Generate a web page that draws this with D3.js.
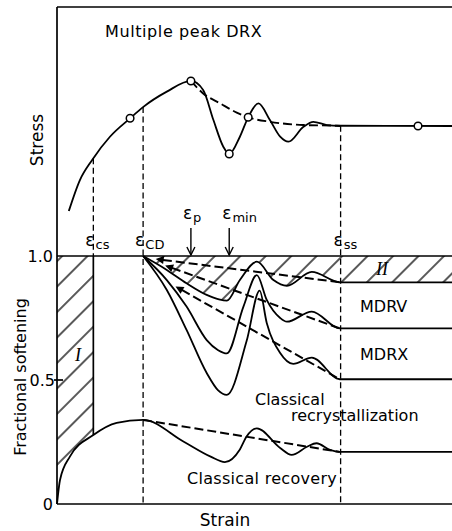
<!DOCTYPE html>
<html><head><meta charset="utf-8">
<script src="https://cdn.jsdelivr.net/npm/d3@7"></script>
<style>
body{margin:0;background:#fff}
svg{display:block}
text{font-family:"DejaVu Sans",sans-serif;fill:#000}
</style>
</head><body><svg id="c" width="452" height="531"></svg>
<script>
// ---------- data ----------
const markNames   = ["cs","CD","p","min","ss"];
const markStrain  = [9.2, 21.8, 33.9, 43.6, 71.8];

// stress–strain (top panel)
const stressStrain = [3.0,5.8,8.9,13.4,18.5,21.7,27.8,33.9,37.0,39.6,42.1,43.6,46.3,48.4,51.0,53.9,56.5,58.6,62.4,64.9,68.3,71.6,100];
const stressSolid  = [18.1,30.5,38.6,47.9,55.3,59.7,66.0,70.3,66.7,54.6,43.9,41.0,47.9,55.7,61.3,54.6,47.9,45.9,51.9,53.9,52.6,52.3,52.2];
const stressDashStrain = [33.9,37.0,41.3,45.5,48.4,53.9,62.4,70.8,71.8];
const stressDash       = [70.3,65.3,61.3,57.6,55.7,53.9,52.6,52.3,52.2];
const circStrain = [18.5,33.9,43.6,48.4,91.4];
const circStress = [55.3,70.3,41.0,55.7,52.2];

// fractional softening (bottom panel)
const fsStrainA = [21.8,27.8,32.8,37.9,41.0,43.0,46.3,50.6,54.8,58.2,64.5,71.6,100];
const fsA       = [1.0,0.944,0.890,0.843,0.825,0.820,0.903,0.977,0.903,0.880,0.936,0.894,0.894];
const fsStrainB = [21.8,27.8,32.8,37.9,40.8,43.0,47.2,50.6,53.1,56.5,58.2,64.5,71.6,100];
const fsB       = [1.0,0.903,0.796,0.661,0.620,0.607,0.796,0.923,0.823,0.750,0.735,0.776,0.708,0.708];
const fsStrainC = [21.8,27.8,32.8,37.9,40.8,43.0,48.0,51.3,53.1,56.5,59.8,64.5,71.6,100];
const fsC       = [1.0,0.863,0.702,0.528,0.458,0.440,0.657,0.860,0.730,0.609,0.565,0.590,0.503,0.503];
const recStrain = [0,0.76,3.3,9.2,15.1,21.8,32.1,38.9,42.5,46.3,48.0,50.6,56.5,59.4,63.3,65.7,69.1,71.6,100];
const recFs     = [0,0.097,0.192,0.278,0.327,0.339,0.251,0.191,0.169,0.220,0.272,0.305,0.226,0.198,0.231,0.245,0.218,0.210,0.210];

const dashStartStrain = [26.8,29.1,31.6,21.8];
const dashStartFs     = [0.984,0.952,0.863,0.339];
const dashEndStrain   = [71.6,71.6,71.6,71.6];
const dashEndFs       = [0.894,0.708,0.503,0.210];
const dashArrow       = [true,true,true,false];

const fsTicks = [0,0.5,1.0];
const fsTickLabels = ["0","0.5","1.0"];

// ---------- scales ----------
const svg = d3.select("#c");
const x  = d3.scaleLinear().domain([0,100]).range([57,452]);
const yS = d3.scaleLinear().domain([0,100]).range([256,7]);
const yF = d3.scaleLinear().domain([0,1]).range([504,256]);

const zip = (a,b)=>a.map((v,i)=>({s:v,v:b[i]}));
const lineS = d3.line().x(d=>x(d.s)).y(d=>yS(d.v)).curve(d3.curveMonotoneX);
const lineF = d3.line().x(d=>x(d.s)).y(d=>yF(d.v)).curve(d3.curveMonotoneX);
const interp = (xs,ys,s)=>{for(let i=1;i<xs.length;i++){if(s<=xs[i]){const t=(s-xs[i-1])/(xs[i]-xs[i-1]);return ys[i-1]+t*(ys[i]-ys[i-1]);}}return ys[ys.length-1];};

// ---------- defs ----------
const defs = svg.append("defs");
const pat = defs.append("pattern").attr("id","hatch").attr("patternUnits","userSpaceOnUse")
  .attr("width",18).attr("height",18).attr("patternTransform","rotate(45)");
pat.append("line").attr("x1",9).attr("y1",-2).attr("x2",9).attr("y2",20).attr("stroke","#000").attr("stroke-width",1.3);
defs.append("marker").attr("id","arr").attr("viewBox","0 0 10 10").attr("refX",1).attr("refY",5)
  .attr("markerWidth",5).attr("markerHeight",4).attr("orient","auto-start-reverse").attr("markerUnits","strokeWidth")
  .append("path").attr("d","M0,0 L10,5 L0,10 z").attr("fill","#000");
defs.append("clipPath").attr("id","clipI").append("rect")
  .attr("x",x(0)).attr("y",yF(1)).attr("width",x(markStrain[0])-x(0)).attr("height",yF(0)-yF(1));
defs.append("clipPath").attr("id","clipII").append("rect")
  .attr("x",x(markStrain[1])).attr("y",yF(1)).attr("width",x(100)-x(markStrain[1])).attr("height",yF(0)-yF(1));

// ---------- hatched regions ----------
const areaF = d3.area().x(d=>x(d.s)).y0(yF(1)).y1(d=>yF(d.v)).curve(d3.curveMonotoneX);
svg.append("path").attr("d",areaF(zip(recStrain,recFs))).attr("fill","url(#hatch)").attr("clip-path","url(#clipI)");
svg.append("path").attr("d",areaF(zip(fsStrainA,fsA))).attr("fill","url(#hatch)").attr("clip-path","url(#clipII)");

// ---------- frame ----------
const frame = svg.append("g").attr("stroke","#000").attr("stroke-width",1.7).attr("fill","none");
frame.append("line").attr("x1",x(0)).attr("x2",x(0)).attr("y1",yS(100)).attr("y2",yF(0));
frame.append("line").attr("x1",x(0)).attr("x2",x(100)).attr("y1",yS(100)).attr("y2",yS(100));
frame.append("line").attr("x1",x(0)).attr("x2",x(100)).attr("y1",yF(1)).attr("y2",yF(1));
frame.append("line").attr("x1",x(0)).attr("x2",x(100)).attr("y1",yF(0)).attr("y2",yF(0));
frame.append("line").attr("x1",x(0)-3).attr("x2",x(0)+6).attr("y1",yF(0.5)).attr("y2",yF(0.5));

// tick labels
svg.selectAll(".tk").data(fsTicks).enter().append("text")
  .attr("x",(d,i)=>i===1?x(0)-2:x(0)-4).attr("y",d=>yF(d)).attr("dy","0.36em")
  .attr("text-anchor","end").attr("font-size",16).text((d,i)=>fsTickLabels[i]);

// ---------- vertical marker lines ----------
const vd = svg.append("g").attr("stroke","#000").attr("stroke-width",1.3).attr("stroke-dasharray","6,3.5").attr("fill","none");
vd.append("line").attr("x1",x(markStrain[0])).attr("x2",x(markStrain[0]))
  .attr("y1",yS(interp(stressStrain,stressSolid,markStrain[0]))).attr("y2",yF(1));
svg.append("line").attr("stroke","#000").attr("stroke-width",1.7)
  .attr("x1",x(markStrain[0])).attr("x2",x(markStrain[0]))
  .attr("y1",yF(1)).attr("y2",yF(interp(recStrain,recFs,markStrain[0])));
vd.append("line").attr("x1",x(markStrain[1])).attr("x2",x(markStrain[1]))
  .attr("y1",yS(interp(stressStrain,stressSolid,markStrain[1]))).attr("y2",yF(0));
vd.append("line").attr("x1",x(markStrain[4])).attr("x2",x(markStrain[4]))
  .attr("y1",yS(interp(stressStrain,stressSolid,markStrain[4]))).attr("y2",yF(0));

// eps_p / eps_min arrows
[2,3].forEach(i=>{
  const xx = x(markStrain[i]);
  const g = svg.append("g").attr("stroke","#000").attr("stroke-width",1.4).attr("fill","none");
  g.append("line").attr("x1",xx).attr("x2",xx).attr("y1",228).attr("y2",yF(1)-1);
  g.append("path").attr("d",`M${xx-4},${yF(1)-9} L${xx},${yF(1)-1} L${xx+4},${yF(1)-9}`);
});

// ---------- curves ----------
const cs = svg.append("g").attr("fill","none").attr("stroke","#000").attr("stroke-width",1.8);
cs.append("path").attr("d",lineS(zip(stressStrain,stressSolid)));
cs.append("path").attr("d",lineS(zip(stressDashStrain,stressDash))).attr("stroke-dasharray","9,4").attr("stroke-width",1.9);
cs.append("path").attr("d",lineF(zip(fsStrainA,fsA)));
cs.append("path").attr("d",lineF(zip(fsStrainB,fsB)));
cs.append("path").attr("d",lineF(zip(fsStrainC,fsC)));
cs.append("path").attr("d",lineF(zip(recStrain,recFs)));

dashStartStrain.forEach((s,i)=>{
  const p = cs.append("line").attr("x1",x(s)).attr("y1",yF(dashStartFs[i]))
    .attr("x2",x(dashEndStrain[i])).attr("y2",yF(dashEndFs[i]))
    .attr("stroke-dasharray","9,4").attr("stroke-width",2);
  if(dashArrow[i]) p.attr("marker-start","url(#arr)");
});

svg.selectAll(".circ").data(circStrain).enter().append("circle")
  .attr("cx",d=>x(d)).attr("cy",(d,i)=>yS(circStress[i])).attr("r",3.8)
  .attr("fill","#fff").attr("stroke","#000").attr("stroke-width",1.5);

// ---------- labels ----------
function eps(xx,yy,sub){
  const t = svg.append("text").attr("x",xx).attr("y",yy).attr("font-size",17);
  t.append("tspan").text("ε");
  t.append("tspan").attr("font-size",13).attr("dy",3).attr("dx",1).text(sub);
}
eps(x(markStrain[0])-8, 246, markNames[0]);
eps(x(markStrain[1])-8, 246, markNames[1]);
eps(x(markStrain[2])-8, 219, markNames[2]);
eps(x(markStrain[3])-7, 219, markNames[3]);
eps(x(markStrain[4])-7, 246, markNames[4]);

svg.append("text").attr("x",105).attr("y",37).attr("font-size",16).attr("letter-spacing",0.6).text("Multiple peak DRX");
svg.append("text").attr("transform","translate(43,140) rotate(-90)").attr("text-anchor","middle").attr("font-size",17).text("Stress");
svg.append("text").attr("transform","translate(26,377) rotate(-90)").attr("text-anchor","middle").attr("font-size",16).text("Fractional softening");
svg.append("text").attr("x",225).attr("y",526).attr("text-anchor","middle").attr("font-size",17).text("Strain");

svg.append("text").attr("x",360).attr("y",312).attr("font-size",16).text("MDRV");
svg.append("text").attr("x",360).attr("y",360).attr("font-size",16).text("MDRX");
svg.append("text").attr("x",255).attr("y",405).attr("font-size",16).text("Classical");
svg.append("text").attr("x",291).attr("y",421).attr("font-size",16).text("recrystallization");
svg.append("text").attr("x",187).attr("y",484).attr("font-size",16).attr("letter-spacing",0.3).text("Classical recovery");

svg.append("text").attr("x",78).attr("y",361).attr("text-anchor","middle").attr("font-size",18)
  .style("font-family","Liberation Serif, serif").attr("font-style","italic").text("I");
svg.append("text").attr("x",382).attr("y",275).attr("text-anchor","middle").attr("font-size",18)
  .style("font-family","Liberation Serif, serif").attr("font-style","italic").text("II");
</script></body></html>
